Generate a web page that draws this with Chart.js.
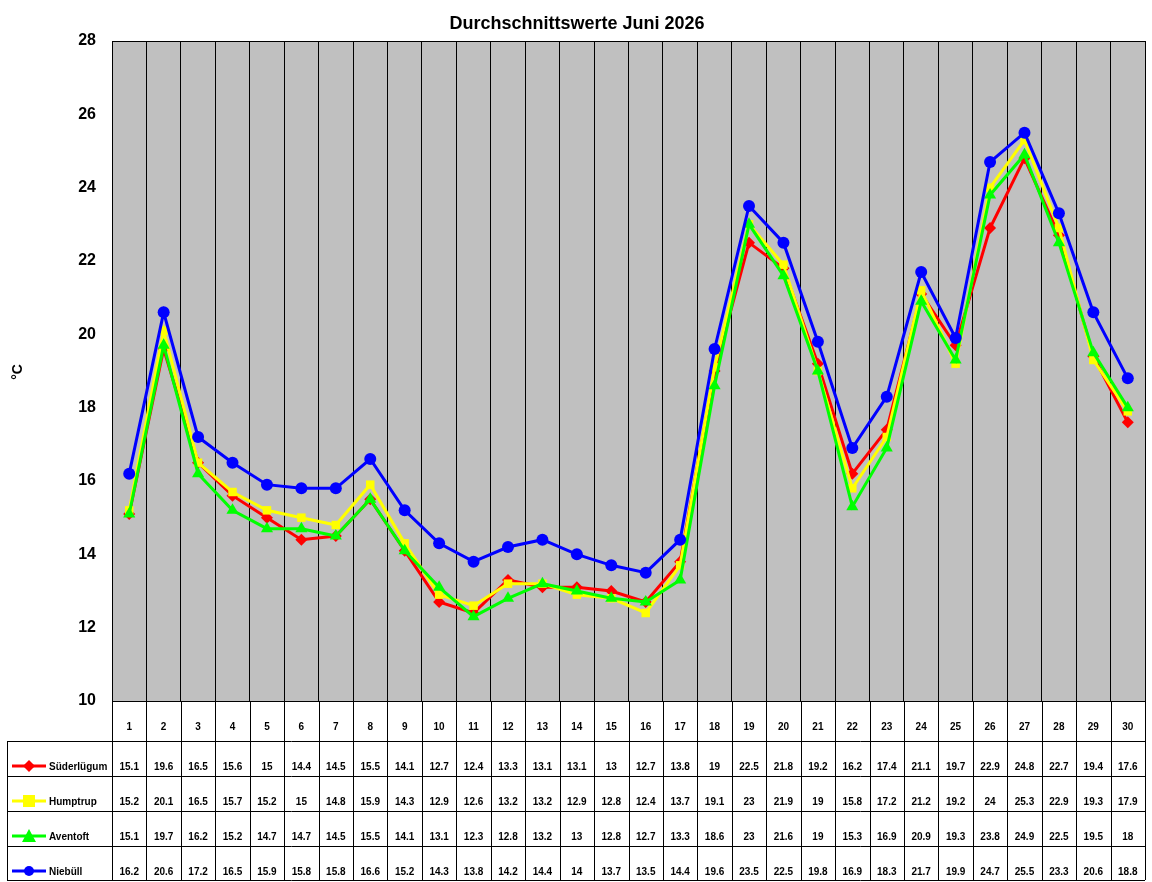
<!DOCTYPE html>
<html>
<head>
<meta charset="utf-8">
<script src="https://cdn.jsdelivr.net/npm/chart.js@4"></script>
<style>
body{margin:0;background:#fff;}
#wrap{width:1152px;height:882px;}
</style>
</head>
<body>
<div id="wrap"><canvas id="chart" width="1152" height="882"></canvas></div>
<script>
const days=["1","2","3","4","5","6","7","8","9","10","11","12","13","14","15","16","17","18","19","20","21","22","23","24","25","26","27","28","29","30"];
const suederluegum=[15.1,19.6,16.5,15.6,15,14.4,14.5,15.5,14.1,12.7,12.4,13.3,13.1,13.1,13,12.7,13.8,19,22.5,21.8,19.2,16.2,17.4,21.1,19.7,22.9,24.8,22.7,19.4,17.6];
const humptrup=[15.2,20.1,16.5,15.7,15.2,15,14.8,15.9,14.3,12.9,12.6,13.2,13.2,12.9,12.8,12.4,13.7,19.1,23,21.9,19,15.8,17.2,21.2,19.2,24,25.3,22.9,19.3,17.9];
const aventoft=[15.1,19.7,16.2,15.2,14.7,14.7,14.5,15.5,14.1,13.1,12.3,12.8,13.2,13,12.8,12.7,13.3,18.6,23,21.6,19,15.3,16.9,20.9,19.3,23.8,24.9,22.5,19.5,18];
const niebuell=[16.2,20.6,17.2,16.5,15.9,15.8,15.8,16.6,15.2,14.3,13.8,14.2,14.4,14,13.7,13.5,14.4,19.6,23.5,22.5,19.8,16.9,18.3,21.7,19.9,24.7,25.5,23.3,20.6,18.8];
const yTicks=[10,12,14,16,18,20,22,24,26,28];

const series=[
  {label:"Süderlügum",data:suederluegum,color:"#FF0000",style:"rectRot"},
  {label:"Humptrup",data:humptrup,color:"#FFFF00",style:"rect"},
  {label:"Aventoft",data:aventoft,color:"#00FF00",style:"triangle"},
  {label:"Niebüll",data:niebuell,color:"#0000FF",style:"circle"}
];

const FONT="'Liberation Sans', Arial, sans-serif";

const tablePlugin={
  id:"table",
  beforeDraw(c){
    const ctx=c.ctx,a=c.chartArea;
    ctx.save();
    ctx.fillStyle="#C0C0C0";
    ctx.fillRect(a.left,a.top,a.right-a.left,a.bottom-a.top);
    ctx.restore();
  },
  afterDraw(c){
    const ctx=c.ctx,a=c.chartArea,x=c.scales.x;
    const rows=[a.bottom,741,776,811,846,880];
    const colW=(a.right-a.left)/days.length;
    ctx.save();
    ctx.strokeStyle="#000";ctx.lineWidth=1;
    // title
    ctx.fillStyle="#000";ctx.font="bold 18px "+FONT;ctx.textAlign="center";
    ctx.fillText("Durchschnittswerte Juni 2026",577,29);
    // y title
    ctx.save();ctx.translate(22,372);ctx.rotate(-Math.PI/2);
    ctx.font="bold 14px "+FONT;ctx.fillText("°C",0,0);ctx.restore();
    // plot border
    ctx.strokeRect(a.left+0.5,a.top+0.5,a.right-a.left,a.bottom-a.top);
    // table lines
    for(let i=0;i<=days.length;i++){
      const px=Math.round(a.left+i*colW)+0.5;
      ctx.beginPath();ctx.moveTo(px,a.bottom);ctx.lineTo(px,rows[5]);ctx.stroke();
    }
    ctx.beginPath();ctx.moveTo(7.5,rows[1]);ctx.lineTo(7.5,rows[5]);ctx.stroke();
    for(let r=1;r<rows.length;r++){
      ctx.beginPath();ctx.moveTo(7,rows[r]+0.5);ctx.lineTo(a.right,rows[r]+0.5);ctx.stroke();
    }
    ctx.font="bold 10px "+FONT;ctx.textAlign="center";
    days.forEach((d,i)=>ctx.fillText(d,x.getPixelForValue(i),730));
    series.forEach((s,r)=>{
      const ty=rows[r+1]+29;
      ctx.textAlign="center";
      s.data.forEach((v,i)=>ctx.fillText(String(v),x.getPixelForValue(i),ty));
      // legend key
      const ky=ty-4;
      ctx.strokeStyle=s.color;ctx.lineWidth=3;
      ctx.beginPath();ctx.moveTo(12,ky);ctx.lineTo(46,ky);ctx.stroke();
      ctx.fillStyle=s.color;
      const m=29,rr=6;ctx.beginPath();
      if(s.style==="rectRot"){ctx.moveTo(m,ky-rr);ctx.lineTo(m+rr,ky);ctx.lineTo(m,ky+rr);ctx.lineTo(m-rr,ky);}
      else if(s.style==="rect"){ctx.rect(m-rr,ky-rr,2*rr,2*rr);}
      else if(s.style==="triangle"){ctx.moveTo(m,ky-rr-1);ctx.lineTo(m+rr+1,ky+rr);ctx.lineTo(m-rr-1,ky+rr);}
      else{ctx.arc(m,ky,rr-1,0,Math.PI*2);}
      ctx.closePath();ctx.fill();
      ctx.fillStyle="#000";ctx.textAlign="left";
      ctx.fillText(s.label,49,ty);
      ctx.strokeStyle="#000";ctx.lineWidth=1;
    });
    ctx.restore();
  }
};

new Chart(document.getElementById("chart"),{
  type:"line",
  data:{
    labels:days,
    datasets:series.map((s,i)=>({
      label:s.label,data:s.data,borderColor:s.color,backgroundColor:s.color,
      pointStyle:s.style,pointRadius:s.style==="triangle"?7:6,pointBorderWidth:0,
      borderWidth:3,tension:0,order:3-i
    }))
  },
  options:{
    responsive:false,animation:false,
    layout:{padding:{top:41,bottom:181,right:4,left:0}},
    plugins:{legend:{display:false},title:{display:false},tooltip:{enabled:false}},
    scales:{
      x:{offset:true,grid:{offset:true,color:"#000",drawTicks:false},border:{display:false},
        ticks:{display:false},afterFit:s=>{s.height=0;}},
      y:{min:10,max:28,afterBuildTicks:s=>{s.ticks=yTicks.map(v=>({value:v}));},
        grid:{display:false},border:{display:false},
        ticks:{color:"#000",font:{family:FONT,size:16,weight:"bold"},padding:8},
        afterFit:s=>{s.width=112;}}
    }
  },
  plugins:[tablePlugin]
});
</script>
</body>
</html>
